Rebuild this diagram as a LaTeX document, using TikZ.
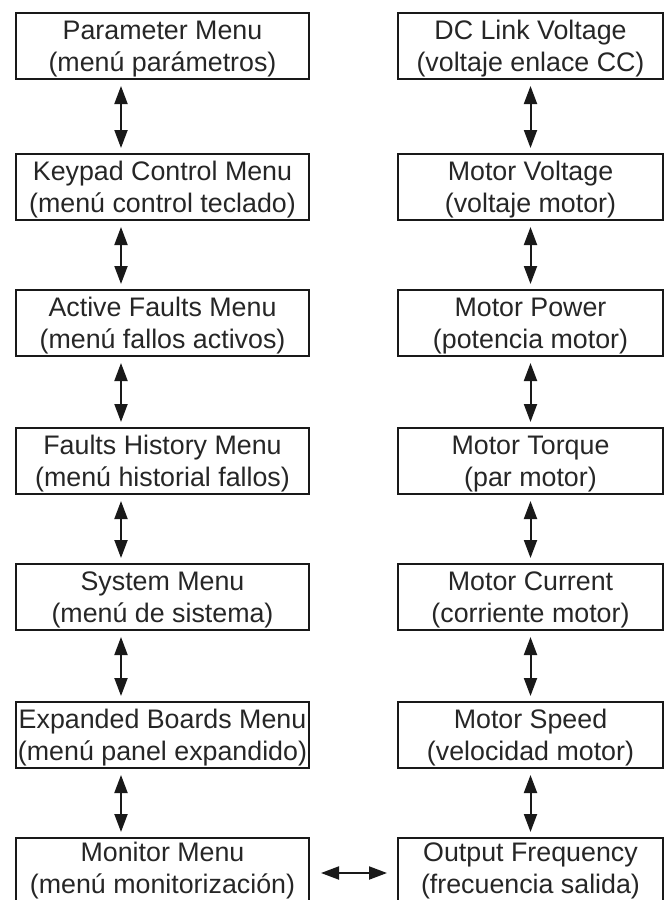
\documentclass[tikz,border=0pt]{standalone}
\usepackage{fontspec}
\setmainfont{Liberation Sans}
\usetikzlibrary{arrows.meta}
\newcommand{\toprl}{\rule{0pt}{25pt}}
\begin{document}
\begin{tikzpicture}[x=1pt,y=-1pt,
  box/.style={draw=black!90,line width=2pt,minimum height=66pt,inner sep=0pt,align=center,
    font=\fontsize{26.8}{32}\selectfont,text=black!85,anchor=north west},
  lbox/.style={box,minimum width=293pt},
  rbox/.style={box,minimum width=265pt},
  link/.style={line width=2pt,draw=black!90,{Triangle[length=18pt,width=13pt]}-{Triangle[length=18pt,width=13pt]}}]
\useasboundingbox (0,0) rectangle (668,900);
\clip (0,0) rectangle (668,900);
% left column
\node[lbox] (l1) at (15,12)  {\toprl Parameter Menu\\(menú parámetros)};
\node[lbox] (l2) at (15,153) {\toprl Keypad Control Menu\\(menú control teclado)};
\node[lbox] (l3) at (15,289) {\toprl Active Faults Menu\\(menú fallos activos)};
\node[lbox] (l4) at (15,427) {\toprl Faults History Menu\\(menú historial fallos)};
\node[lbox] (l5) at (15,563) {\toprl System Menu\\(menú de sistema)};
\node[lbox] (l6) at (15,701) {\toprl Expanded Boards Menu\\(menú panel expandido)};
\node[lbox] (l7) at (15,837) {Monitor Menu\\(menú monitorización)};
% right column
\node[rbox] (r1) at (397,12)  {\toprl DC Link Voltage\\(voltaje enlace CC)};
\node[rbox] (r2) at (397,153) {\toprl Motor Voltage\\(voltaje motor)};
\node[rbox] (r3) at (397,289) {\toprl Motor Power\\(potencia motor)};
\node[rbox] (r4) at (397,427) {\toprl Motor Torque\\(par motor)};
\node[rbox] (r5) at (397,563) {\toprl Motor Current\\(corriente motor)};
\node[rbox] (r6) at (397,701) {\toprl Motor Speed\\(velocidad motor)};
\node[rbox] (r7) at (397,837) {Output Frequency\\(frecuencia salida)};
% left arrows
\foreach \a/\b in {l1/l2,l2/l3,l3/l4,l4/l5,l5/l6,l6/l7}
  \draw[link] ([xshift=106pt,yshift=-6pt]\a.south west) -- ([xshift=106pt,yshift=5pt]\b.north west);
% right arrows
\foreach \a/\b in {r1/r2,r2/r3,r3/r4,r4/r5,r5/r6,r6/r7}
  \draw[link] ([yshift=-6pt]\a.south) -- ([yshift=5pt]\b.north);
% bottom horizontal arrow
\draw[link] ([xshift=11pt,yshift=-2pt]l7.east) -- ([xshift=-10pt,yshift=-2pt]r7.west);
\end{tikzpicture}
\end{document}
